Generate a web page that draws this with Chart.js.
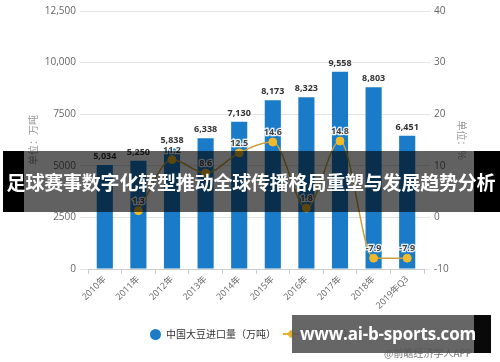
<!DOCTYPE html>
<html lang="zh">
<head>
<meta charset="UTF-8" />
<title>中国大豆进口量</title>
<script src="https://cdn.jsdelivr.net/npm/chart.js"></script>
<style>
  body { margin: 0; background: #fff; font-family: "Open Sans", "Noto Sans CJK SC", sans-serif; }
  #wrap { position: relative; width: 500px; height: 362px; overflow: hidden; }
  #wrap canvas { position: absolute; left: 0; top: 0; }
  .legend { position: absolute; top: 326px; font-size: 10px; color: #333; font-family: "Noto Sans CJK SC", sans-serif; white-space: nowrap; }
  .dot { display: inline-block; width: 11px; height: 11px; border-radius: 50%; background: #1a7cc8; vertical-align: -2px; margin-right: 5px; }
  .lmark { display: inline-block; position: relative; width: 16px; height: 10px; margin-right: 5px; vertical-align: -1px; }
  .lmark:before { content: ""; position: absolute; left: 0; right: 0; top: 4px; height: 2px; background: #e5b12e; }
  .lmark:after { content: ""; position: absolute; left: 5px; top: 2px; width: 6px; height: 6px; background: #e5b12e; transform: rotate(45deg); }
  .src { position: absolute; left: 384px; top: 345px; font-size: 10px; color: #777; font-family: "Noto Sans CJK SC", sans-serif; }
  .banner { position: absolute; left: 3px; top: 151px; width: 497px; height: 61px; background: rgba(0,0,0,0.62); }
  .bk { position: absolute; background: #000; }
  .btext { position: absolute; left: 0; top: 151px; width: 502px; height: 61px; line-height: 61px; text-align: center; color: #fff; font-weight: bold; font-size: 19px; font-family: "Noto Sans CJK SC", sans-serif; letter-spacing: -0.2px; white-space: nowrap; }
  .wm { position: absolute; left: 292px; top: 315px; width: 199px; height: 38px; background: rgba(85,85,85,0.9); }
  .wtext { position: absolute; left: 292px; top: 315px; width: 192px; height: 38px; line-height: 38px; text-align: center; color: #fff; font-weight: bold; font-size: 17px; font-family: "Open Sans", sans-serif; white-space: nowrap; letter-spacing: -0.2px; }
</style>
</head>
<body>
<div id="wrap">
  <canvas id="c" width="500" height="362"></canvas>
  <div class="legend" style="left:150px"><span class="dot"></span>中国大豆进口量（万吨）</div>
  <div class="legend" style="left:283px"><span class="lmark"></span>增速（%）</div>
  <div class="src">@前瞻经济学人APP</div>
  <div class="banner"></div>
  <div class="bk" style="left:3px;top:151px;width:21px;height:61px"></div>
  <div class="bk" style="left:474px;top:151px;width:26px;height:61px"></div>
  <div class="btext">足球赛事数字化转型推动全球传播格局重塑与发展趋势分析</div>
  <div class="wm"></div>
  <div class="bk" style="left:474px;top:315px;width:17px;height:38px;opacity:0.9"></div>
  <div class="wtext">www.ai-b-sports.com</div>
</div>
<script>
  const years = ['2010年', '2011年', '2012年', '2013年', '2014年', '2015年', '2016年', '2017年', '2018年', '2019年Q3'];
  const imports = [5034, 5250, 5838, 6338, 7130, 8173, 8323, 9558, 8803, 6451];
  const growth = [null, 1.3, 11.2, 8.6, 12.5, 14.6, 1.8, 14.8, -7.9, -7.9];
  const leftTicks = ['0', '2500', '5000', '7500', '10,000', '12,500'];
  const rightTicks = ['-10', '0', '10', '20', '30', '40'];

  const fontFamily = '"Open Sans", "Noto Sans CJK SC", sans-serif';

  const valueLabels = {
    id: 'valueLabels',
    afterDatasetsDraw(chart) {
      const ctx = chart.ctx;
      ctx.save();
      ctx.font = 'bold 9px ' + fontFamily;
      ctx.textAlign = 'center';
      ctx.textBaseline = 'bottom';
      // dataset 1 = bars, dataset 0 = line
      chart.getDatasetMeta(1).data.forEach((bar, i) => {
        ctx.fillStyle = '#333';
        ctx.fillText(imports[i].toLocaleString('en-US'), bar.x, bar.y - 4);
      });
      chart.getDatasetMeta(0).data.forEach((pt, i) => {
        if (growth[i] === null) return;
        ctx.lineWidth = 2.5;
        ctx.strokeStyle = 'rgba(255,255,255,0.9)';
        ctx.strokeText(String(growth[i]), pt.x, pt.y - 5);
        ctx.fillStyle = '#444';
        ctx.fillText(String(growth[i]), pt.x, pt.y - 5);
      });
      ctx.restore();
    }
  };

  new Chart(document.getElementById('c'), {
    data: {
      labels: years,
      datasets: [
        {
          type: 'line',
          label: '增速（%）',
          data: growth,
          yAxisID: 'y1',
          borderColor: '#c9a23c',
          borderWidth: 1.5,
          cubicInterpolationMode: 'monotone',
          pointRadius: 4,
          pointBackgroundColor: '#f0b92c',
          pointBorderColor: '#f0b92c',
          pointBorderWidth: 1,
          spanGaps: false,
          order: 0
        },
        {
          type: 'bar',
          label: '中国大豆进口量（万吨）',
          data: imports,
          yAxisID: 'y',
          backgroundColor: '#1a7cc8',
          categoryPercentage: 1,
          barPercentage: 0.48,
          order: 1
        }
      ]
    },
    options: {
      responsive: false,
      animation: false,
      layout: { padding: { top: 11, bottom: 0, left: 0, right: 0 } },
      plugins: { legend: { display: false }, tooltip: { enabled: false } },
      scales: {
        x: {
          grid: { display: true, drawOnChartArea: false, color: '#ccc', tickLength: 5 },
          border: { color: '#ccc' },
          ticks: {
            minRotation: 45, maxRotation: 45, padding: 0,
            color: '#666', font: { size: 9, family: fontFamily }
          },
          afterFit(s) { s.height = 93; }
        },
        y: {
          position: 'left',
          min: 0, max: 12500,
          afterBuildTicks(s) { s.ticks = leftTicks.map((t, i) => ({ value: i * 2500 })); },
          grid: { color: '#e3e3e3', tickLength: 8 },
          border: { display: false },
          ticks: {
            padding: 4, color: '#666', font: { size: 10, family: fontFamily },
            callback: (v, i) => leftTicks[i]
          },
          title: { display: true, text: '单位：万吨', color: '#999', font: { size: 10, family: '"Noto Sans CJK SC", sans-serif' }, padding: { top: 27, bottom: 0 } },
          afterFit(s) { s.width = 88; }
        },
        y1: {
          position: 'right',
          min: -10, max: 40,
          afterBuildTicks(s) { s.ticks = rightTicks.map((t, i) => ({ value: -10 + i * 10 })); },
          grid: { drawOnChartArea: false, color: '#e3e3e3', tickLength: 6 },
          border: { display: false },
          ticks: {
            padding: 4, color: '#666', font: { size: 10, family: fontFamily },
            callback: (v, i) => rightTicks[i]
          },
          title: { display: true, text: '单位：%', color: '#999', font: { size: 10, family: '"Noto Sans CJK SC", sans-serif' }, padding: { top: 32, bottom: 0 } },
          afterFit(s) { s.width = 76; }
        }
      }
    },
    plugins: [valueLabels]
  });
</script>
</body>
</html>
